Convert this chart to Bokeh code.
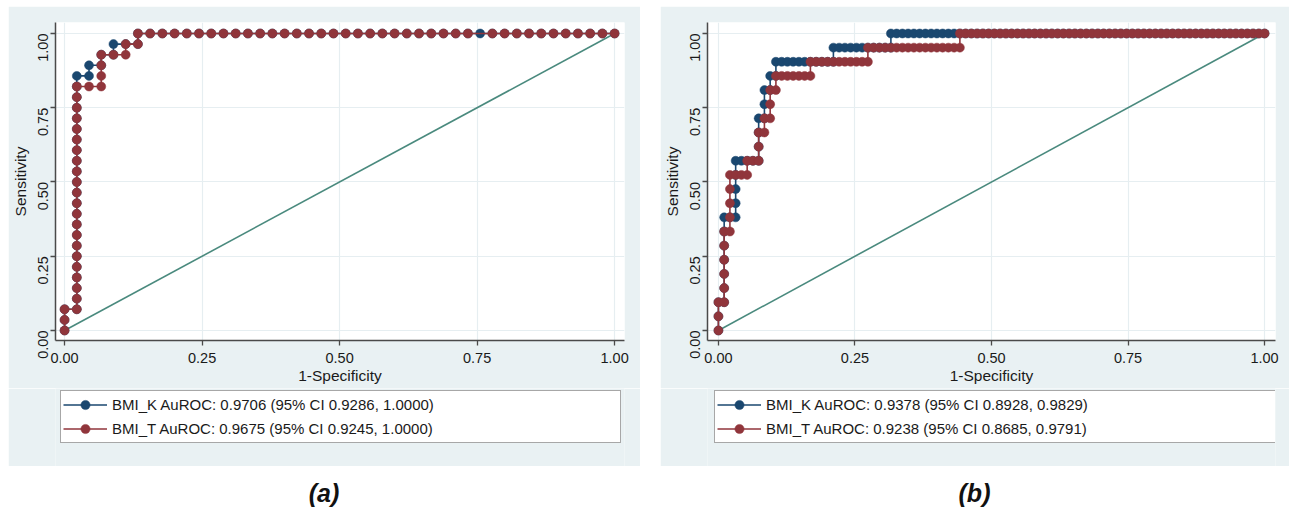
import math
from bokeh.plotting import figure
from bokeh.models import Range1d, FixedTicker, Legend, LegendItem, Div, PrintfTickFormatter, Spacer
from bokeh.layouts import row, column
from bokeh.embed import file_html
from bokeh.resources import INLINE

# ---------------- data ----------------
TICKS = [0.0, 0.25, 0.5, 0.75, 1.0]
DIAG_X = [0.0, 1.0]
DIAG_Y = [0.0, 1.0]

# Panel (a): 45 negatives, 28 positives.
# For each positive (in order of decreasing score), the number of negatives ranked above it.
A_N_NEG = 45
A_N_POS = 28
A_K_STEPS = [0, 0, 1, 1, 1, 1, 1, 1, 1, 1, 1, 1, 1, 1, 1, 1, 1, 1, 1, 1, 1, 1, 1, 1, 2, 3, 4, 6]
A_T_STEPS = [0, 0, 1, 1, 1, 1, 1, 1, 1, 1, 1, 1, 1, 1, 1, 1, 1, 1, 1, 1, 1, 1, 1, 3, 3, 3, 5, 6]
A_K_TIES = []
A_T_TIES = [(34, 28)]
A_LABELS = ["BMI_K AuROC: 0.9706 (95% CI 0.9286, 1.0000)",
            "BMI_T AuROC: 0.9675 (95% CI 0.9245, 1.0000)"]

# Panel (b): 95 negatives, 21 positives.
B_N_NEG = 95
B_N_POS = 21
B_K_STEPS = [0, 0, 1, 1, 1, 1, 1, 1, 3, 3, 3, 3, 7, 7, 7, 8, 8, 9, 10, 20, 30]
B_T_STEPS = [0, 0, 1, 1, 1, 1, 1, 2, 2, 2, 2, 5, 7, 7, 8, 9, 9, 10, 16, 26, 42]
B_K_TIES = []
B_T_TIES = []
B_LABELS = ["BMI_K AuROC: 0.9378 (95% CI 0.8928, 0.9829)",
            "BMI_T AuROC: 0.9238 (95% CI 0.8685, 0.9791)"]

CAPTIONS = ["(a)", "(b)"]

# ---------------- style ----------------
BLUE = "#1a476f"
RED = "#90353b"
DIAG = "#4a8a7e"
BG = "#e9f1f3"
GRID = "#e6eef1"
AXIS = "#4a4a4a"
FONT = "Liberation Sans"


def roc_points(steps, n_neg, n_pos, ties):
    """Walk the empirical ROC staircase: one point per distinct cutoff."""
    pts = [(0, 0)]
    i = 0
    for k, s in enumerate(steps, 1):
        while i < s:
            i += 1
            if (i, k - 1) not in ties:
                pts.append((i, k - 1))
        if (i, k) not in ties:
            pts.append((i, k))
    while i < n_neg:
        i += 1
        if (i, n_pos) not in ties:
            pts.append((i, n_pos))
    return [a / n_neg for a, _ in pts], [b / n_pos for _, b in pts]


def make_panel(width, xr, border_left, border_right, n_neg, n_pos,
               k_steps, t_steps, k_ties, t_ties):
    p = figure(width=width, height=382, output_backend="svg", toolbar_location=None,
               x_range=Range1d(*xr), y_range=Range1d(-0.0337, 1.037),
               min_border_left=border_left, min_border_right=border_right,
               min_border_top=16, min_border_bottom=48,
               background_fill_color="white", border_fill_color=BG,
               outline_line_color=None)

    p.line(DIAG_X, DIAG_Y, line_color=DIAG, line_width=1.6)

    for steps, ties, col in ((k_steps, k_ties, BLUE), (t_steps, t_ties, RED)):
        fx, ty = roc_points(steps, n_neg, n_pos, ties)
        p.line(fx, ty, line_color=col, line_width=1.6)
        p.scatter(fx, ty, size=9, fill_color=col, line_color=col, line_width=0.5)

    for ax in (p.xaxis[0], p.yaxis[0]):
        ax.ticker = FixedTicker(ticks=TICKS)
        ax.formatter = PrintfTickFormatter(format="%.2f")
        ax.axis_line_color = AXIS
        ax.axis_line_width = 1.5
        ax.major_tick_line_color = AXIS
        ax.major_tick_line_width = 1.3
        ax.major_tick_out = 5
        ax.major_tick_in = 0
        ax.minor_tick_out = 0
        ax.minor_tick_in = 0
        ax.major_label_text_font = FONT
        ax.major_label_text_font_size = "14.5px"
        ax.major_label_text_color = "#1a1a1a"
        ax.axis_label_text_font = FONT
        ax.axis_label_text_font_size = "15.5px"
        ax.axis_label_text_font_style = "normal"
        ax.axis_label_text_color = "#1a1a1a"
    p.xaxis.axis_label = "1-Specificity"
    p.yaxis.axis_label = "Sensitivity"
    p.yaxis.major_label_orientation = math.pi / 2
    p.xaxis.major_label_standoff = 7
    p.yaxis.major_label_standoff = 7
    p.xaxis.axis_label_standoff = 1
    p.yaxis.axis_label_standoff = 2

    for g in (p.xgrid[0], p.ygrid[0]):
        g.ticker = FixedTicker(ticks=TICKS)
        g.grid_line_color = GRID
        g.grid_line_width = 1.2
    return p


def make_legend(width, border_left, border_right, labels, leg_x, label_width):
    q = figure(width=width, height=78, output_backend="svg", toolbar_location=None,
               x_range=Range1d(0, 1), y_range=Range1d(0, 1),
               x_axis_location=None, y_axis_location=None,
               min_border_left=border_left, min_border_right=border_right,
               min_border_top=0, min_border_bottom=0,
               background_fill_color=BG, border_fill_color=BG, outline_line_color=None)
    q.grid.grid_line_color = None
    items = []
    for lab, col in zip(labels, (BLUE, RED)):
        # legend keys only: their data lie outside this strip's visible range
        lr = q.line(x=[-5, -4], y=[-5, -4], line_color=col, line_width=1.6)
        sr = q.scatter(x=[-5], y=[-5], size=9, fill_color=col, line_color=col, line_width=0.5)
        items.append(LegendItem(label=lab, renderers=[lr, sr]))
    # location = bottom-left corner of the legend box, in px from the frame's bottom-left
    leg = Legend(items=items, location=(leg_x, 23), orientation="vertical",
                 margin=0, padding=2, spacing=1,
                 glyph_width=44, glyph_height=23,
                 label_width=label_width, label_standoff=5,
                 label_text_font=FONT, label_text_font_size="15px",
                 label_text_color="#1a1a1a",
                 border_line_color="#505050", border_line_width=1.5,
                 background_fill_color="white", background_fill_alpha=1.0)
    q.add_layout(leg)
    return q


def caption(text, width):
    return Div(text=('<div style="width:%dpx;text-align:center;font-family:\'Liberation Sans\';'
                     'font-weight:bold;font-style:italic;font-size:25px;line-height:30px;'
                     'padding-top:12px;color:#111">%s</div>') % (width, text),
               width=width, height=40, margin=0)


pa = make_panel(632, (-0.0165, 1.018), 46, 16, A_N_NEG, A_N_POS,
                A_K_STEPS, A_T_STEPS, A_K_TIES, A_T_TIES)
la = make_legend(632, 46, 16, A_LABELS, 5, 506)
pb = make_panel(629, (-0.020, 1.020), 45, 14, B_N_NEG, B_N_POS,
                B_K_STEPS, B_T_STEPS, B_K_TIES, B_T_TIES)
lb = make_legend(629, 45, 14, B_LABELS, 7, 508)

layout = column(Spacer(height=6, margin=0),
                row(Spacer(width=8, margin=0),
                    column(pa, la, caption(CAPTIONS[0], 632), spacing=0),
                    Spacer(width=20, margin=0),
                    column(pb, lb, caption(CAPTIONS[1], 629), spacing=0),
                    spacing=0),
                spacing=0)

open("out.html", "w").write(file_html(layout, INLINE))
